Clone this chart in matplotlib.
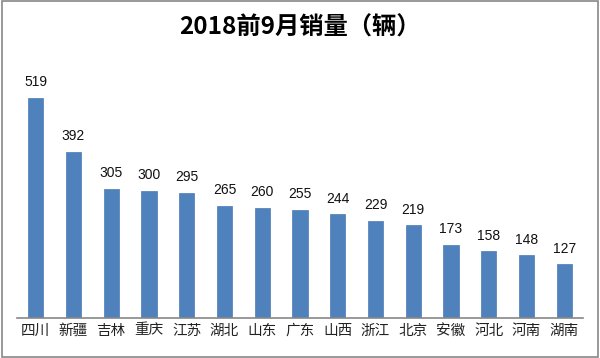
import matplotlib
matplotlib.use("Agg")
import matplotlib.pyplot as plt
from matplotlib.patches import Rectangle

plt.rcParams['font.family'] = ['Noto Sans CJK SC', 'DejaVu Sans']

categories = ["四川", "新疆", "吉林", "重庆", "江苏", "湖北", "山东", "广东", "山西", "浙江", "北京", "安徽", "河北", "河南", "湖南"]
values = [519, 392, 305, 300, 295, 265, 260, 255, 244, 229, 219, 173, 158, 148, 127]
title = "2018前9月销量（辆）"

fig = plt.figure(figsize=(6.0, 3.58), dpi=100)
ax = fig.add_axes([0.028, 40/358, 0.944, 258/358])

x = list(range(len(categories)))
bars = ax.bar(x, values, width=0.4, color="#4F81BD", edgecolor="#4A7AB5", linewidth=0.5)
ax.set_xlim(-0.5, len(categories) - 0.5)
ax.set_ylim(0, 608)

for xi, v in zip(x, values):
    ax.annotate(str(v), (xi, v), xytext=(0, 6), textcoords="offset points",
                ha="center", va="bottom", fontsize=10, family=["Liberation Sans", "DejaVu Sans"], color="#111111")

ax.set_xticks(x)
ax.set_xticklabels(categories, fontsize=10.5, color="#222222")
ax.tick_params(axis="x", length=0, pad=4)
ax.set_yticks([])
for s in ["top", "right", "left"]:
    ax.spines[s].set_visible(False)
ax.spines["bottom"].set_color("#888888")
ax.spines["bottom"].set_linewidth(1.2)

fig.text(0.5, 1 - 28/358, title, ha="center", va="center", fontsize=17.5, fontweight="bold", color="#000000")

fig.patches.append(Rectangle((0.003, 0.003), 0.994, 0.994, transform=fig.transFigure,
                             fill=False, edgecolor="#888888", linewidth=1.2))

fig.savefig("out.png", dpi=100)
